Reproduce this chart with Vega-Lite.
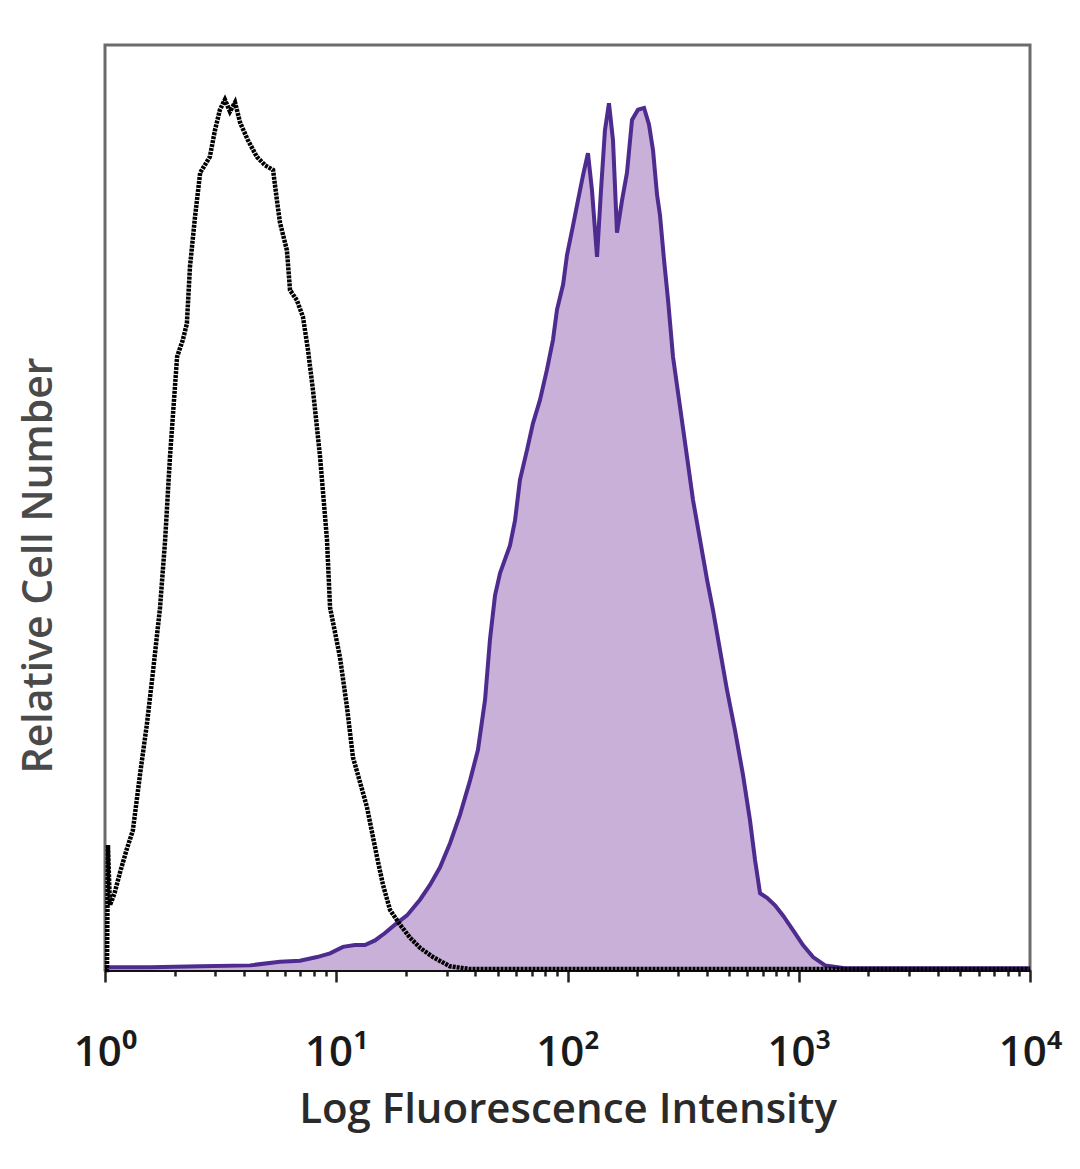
{
  "$schema": "https://vega.github.io/schema/vega-lite/v6.json",
  "autosize": "none",
  "width": 925,
  "height": 925,
  "padding": {"left": 105, "top": 45, "right": 50, "bottom": 199},
  "background": "white",
  "config": {
    "view": {"stroke": "#6e6a6a", "strokeWidth": 3},
    "font": "Open Sans"
  },
  "datasets": {
    "isotype": [
      {"x": 1.0, "y": 0},
      {"x": 1.02, "y": 0},
      {"x": 1.03, "y": 13.5},
      {"x": 1.05, "y": 7.0},
      {"x": 1.10, "y": 8.3},
      {"x": 1.16, "y": 10.5},
      {"x": 1.24, "y": 13.0},
      {"x": 1.32, "y": 15.1},
      {"x": 1.42, "y": 21.3},
      {"x": 1.52, "y": 26.7},
      {"x": 1.61, "y": 32.1},
      {"x": 1.73, "y": 39.2},
      {"x": 1.82, "y": 46.5},
      {"x": 1.91, "y": 55.5},
      {"x": 2.05, "y": 66.3},
      {"x": 2.17, "y": 68.1},
      {"x": 2.26, "y": 69.9},
      {"x": 2.33, "y": 76.0},
      {"x": 2.45, "y": 81.4},
      {"x": 2.58, "y": 86.2},
      {"x": 2.84, "y": 87.9},
      {"x": 2.99, "y": 90.8},
      {"x": 3.14, "y": 93.0},
      {"x": 3.30, "y": 94.1},
      {"x": 3.47, "y": 92.8},
      {"x": 3.65, "y": 93.8},
      {"x": 3.84, "y": 91.6},
      {"x": 4.15, "y": 89.7},
      {"x": 4.54, "y": 87.9},
      {"x": 4.92, "y": 87.0},
      {"x": 5.33, "y": 86.5},
      {"x": 5.54, "y": 83.2},
      {"x": 5.71, "y": 80.8},
      {"x": 6.12, "y": 77.8},
      {"x": 6.31, "y": 73.5},
      {"x": 6.76, "y": 72.4},
      {"x": 7.18, "y": 70.6},
      {"x": 7.55, "y": 67.0},
      {"x": 7.93, "y": 62.7},
      {"x": 8.51, "y": 55.5},
      {"x": 9.12, "y": 46.5},
      {"x": 9.40, "y": 39.2},
      {"x": 10.38, "y": 33.8},
      {"x": 11.13, "y": 28.4},
      {"x": 11.81, "y": 23.0},
      {"x": 12.67, "y": 20.3},
      {"x": 13.58, "y": 17.6},
      {"x": 15.01, "y": 12.2},
      {"x": 15.93, "y": 9.2},
      {"x": 17.08, "y": 6.5},
      {"x": 18.87, "y": 4.9},
      {"x": 20.84, "y": 3.5},
      {"x": 23.02, "y": 2.4},
      {"x": 26.2, "y": 1.4},
      {"x": 31.0, "y": 0.4},
      {"x": 37.9, "y": 0.1},
      {"x": 10000, "y": 0.1}
    ],
    "stained": [
      {"x": 1.0, "y": 0.3},
      {"x": 1.57, "y": 0.3},
      {"x": 2.58, "y": 0.4},
      {"x": 4.24, "y": 0.5},
      {"x": 5.71, "y": 0.9},
      {"x": 6.97, "y": 1.0},
      {"x": 8.26, "y": 1.4},
      {"x": 9.40, "y": 1.8},
      {"x": 10.69, "y": 2.5},
      {"x": 12.05, "y": 2.7},
      {"x": 13.31, "y": 2.7},
      {"x": 14.71, "y": 3.2},
      {"x": 16.25, "y": 4.0},
      {"x": 17.95, "y": 4.9},
      {"x": 20.23, "y": 5.9},
      {"x": 23.02, "y": 7.6},
      {"x": 25.43, "y": 9.2},
      {"x": 28.10, "y": 11.1},
      {"x": 31.05, "y": 13.7},
      {"x": 34.30, "y": 16.8},
      {"x": 37.9, "y": 20.5},
      {"x": 41.0, "y": 23.8},
      {"x": 44.0, "y": 29.2},
      {"x": 46.2, "y": 35.7},
      {"x": 48.6, "y": 40.5},
      {"x": 51.1, "y": 42.9},
      {"x": 56.4, "y": 45.9},
      {"x": 59.3, "y": 48.6},
      {"x": 62.3, "y": 53.0},
      {"x": 66.8, "y": 56.2},
      {"x": 70.9, "y": 59.1},
      {"x": 76.0, "y": 61.6},
      {"x": 81.5, "y": 64.9},
      {"x": 86.5, "y": 68.1},
      {"x": 90.1, "y": 71.4},
      {"x": 95.7, "y": 74.1},
      {"x": 99.5, "y": 77.3},
      {"x": 105.7, "y": 80.5},
      {"x": 111.0, "y": 83.2},
      {"x": 116.7, "y": 85.9},
      {"x": 122.6, "y": 88.3},
      {"x": 127.6, "y": 84.3},
      {"x": 134.2, "y": 77.1},
      {"x": 139.6, "y": 84.3},
      {"x": 145.2, "y": 90.8},
      {"x": 151.1, "y": 93.7},
      {"x": 157.3, "y": 89.7},
      {"x": 163.7, "y": 79.7},
      {"x": 172.1, "y": 83.2},
      {"x": 180.8, "y": 86.2},
      {"x": 190.1, "y": 91.9},
      {"x": 201.7, "y": 93.0},
      {"x": 214.3, "y": 93.2},
      {"x": 225.1, "y": 91.4},
      {"x": 234.4, "y": 88.6},
      {"x": 243.9, "y": 83.8},
      {"x": 251.2, "y": 81.6},
      {"x": 261.4, "y": 76.8},
      {"x": 272.2, "y": 72.4},
      {"x": 285.9, "y": 66.3},
      {"x": 306.6, "y": 60.9},
      {"x": 328.6, "y": 55.5},
      {"x": 349.0, "y": 50.8},
      {"x": 374.3, "y": 46.5},
      {"x": 401.2, "y": 42.2},
      {"x": 425.8, "y": 38.9},
      {"x": 456.4, "y": 34.6},
      {"x": 489.3, "y": 30.3},
      {"x": 530.1, "y": 25.9},
      {"x": 574.0, "y": 21.1},
      {"x": 615.2, "y": 16.2},
      {"x": 647.1, "y": 11.9},
      {"x": 680.3, "y": 8.3},
      {"x": 729.3, "y": 7.8},
      {"x": 789.3, "y": 7.0},
      {"x": 854.5, "y": 5.9},
      {"x": 944.3, "y": 4.3},
      {"x": 1043, "y": 2.7},
      {"x": 1153, "y": 1.4},
      {"x": 1300, "y": 0.5},
      {"x": 1585, "y": 0.2},
      {"x": 2740, "y": 0.2},
      {"x": 10000, "y": 0.2}
    ]
  },
  "encoding": {
    "x": {
      "field": "x",
      "type": "quantitative",
      "scale": {"type": "log", "domain": [1, 10000], "nice": false},
      "axis": {
        "title": "Log Fluorescence Intensity",
        "titleFontSize": 42,
        "titleFontWeight": 600,
        "titleColor": "#2a2a2a",
        "titlePadding": 16,
        "values": [1,2,3,4,5,6,7,8,9,10,20,30,40,50,60,70,80,90,100,200,300,400,500,600,700,800,900,1000,2000,3000,4000,5000,6000,7000,8000,9000,10000],
        "labelExpr": "datum.value == 1 ? '10⁰' : datum.value == 10 ? '10¹' : datum.value == 100 ? '10²' : datum.value == 1000 ? '10³' : datum.value == 10000 ? '10⁴' : ''",
        "labelFontSize": 42,
        "labelFontWeight": 600,
        "labelColor": "#1a1a1a",
        "labelFlush": false,
        "labelOverlap": false,
        "labelBound": false,
        "labelPadding": 50,
        "tickColor": "#222222",
        "tickWidth": 2.5,
        "tickSize": {"condition": {"test": "indexof([1,10,100,1000,10000], datum.value) >= 0", "value": 12}, "value": 6},
        "domainColor": "#111111",
        "domainWidth": 3,
        "grid": false
      }
    },
    "y": {
      "field": "y",
      "type": "quantitative",
      "scale": {"domain": [0, 100], "nice": false},
      "axis": {
        "title": "Relative Cell Number",
        "titleFontSize": 41,
        "titleFontWeight": 600,
        "titleColor": "#4a4a4a",
        "titlePadding": 45,
        "titleY": 520,
        "labels": false,
        "ticks": false,
        "domain": false,
        "grid": false
      }
    }
  },
  "layer": [
    {
      "data": {"name": "stained"},
      "mark": {"type": "area", "color": "#c9b0d8", "opacity": 1, "interpolate": "linear"}
    },
    {
      "data": {"name": "stained"},
      "mark": {"type": "line", "color": "#4e2b8f", "strokeWidth": 4, "interpolate": "linear"}
    },
    {
      "data": {"name": "isotype"},
      "mark": {"type": "line", "color": "#000000", "strokeWidth": 4.5, "strokeDash": [3, 1], "interpolate": "linear"}
    }
  ]
}
